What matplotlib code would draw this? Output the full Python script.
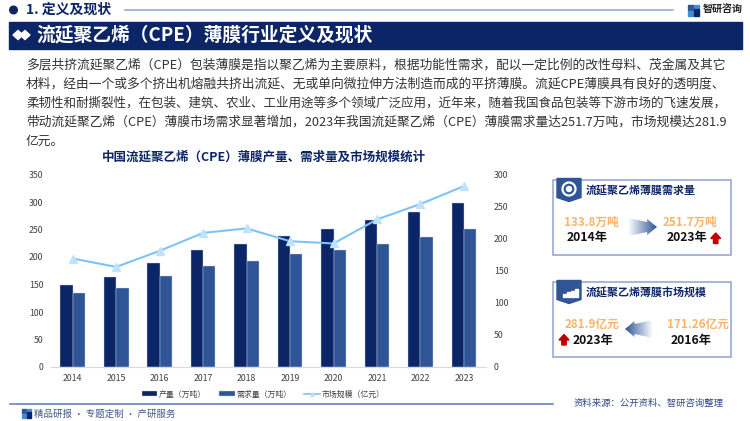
import matplotlib
matplotlib.use("Agg")
import matplotlib.pyplot as plt
import numpy as np
from matplotlib.colors import LinearSegmentedColormap
from matplotlib.lines import Line2D
from matplotlib.patches import Circle, Polygon, Rectangle

plt.rcParams["font.family"] = ["Noto Sans CJK SC", "DejaVu Sans"]

years = [2014, 2015, 2016, 2017, 2018, 2019, 2020, 2021, 2022, 2023]
output = [150, 164, 189.5, 212, 224.5, 239, 251, 266.5, 281, 298.5]
demand = [133.8, 143, 165, 183, 193, 205, 212.5, 223.5, 235.5, 251.7]
market = [169, 156, 181, 209, 216, 196, 192.5, 230, 254, 281.9]

left_ticks = [0, 50, 100, 150, 200, 250, 300, 350]
right_ticks = [0, 50, 100, 150, 200, 250, 300]

body_lines = [
    "多层共挤流延聚乙烯（CPE）包装薄膜是指以聚乙烯为主要原料，根据功能性需求，配以一定比例的改性母料、茂金属及其它",
    "材料，经由一个或多个挤出机熔融共挤出流延、无或单向微拉伸方法制造而成的平挤薄膜。流延CPE薄膜具有良好的透明度、",
    "柔韧性和耐撕裂性，在包装、建筑、农业、工业用途等多个领域广泛应用，近年来，随着我国食品包装等下游市场的飞速发展，",
    "带动流延聚乙烯（CPE）薄膜市场需求显著增加，2023年我国流延聚乙烯（CPE）薄膜需求量达251.7万吨，市场规模达281.9",
    "亿元。",
]

NAVY = "#0b2567"
BLUE = "#2f5597"
LIGHT = "#7cc4f5"
ORANGE = "#f9b468"
FRAME = "#8fa3cf"

fig = plt.figure(figsize=(7.5, 4.21), dpi=100)
renderer = fig.canvas.get_renderer()

# page layer in pixel coordinates
page = fig.add_axes([0, 0, 1, 1], zorder=0)
page.set_xlim(0, 750)
page.set_ylim(421, 0)
page.axis("off")


def logo(x, y, s):
    page.add_patch(Rectangle((x, y), s * 0.45, s * 0.45, color="#2f5597"))
    page.add_patch(Rectangle((x + s * 0.55, y), s * 0.45, s * 0.3, color="#3f8fd8"))
    page.add_patch(Rectangle((x, y + s * 0.55), s * 0.45, s * 0.45, color="#3f8fd8"))
    page.add_patch(Rectangle((x + s * 0.55, y + s * 0.4), s * 0.45, s * 0.6, color="#0b2567"))


def gradient_arrow(x0, x1, yc, flip=False):
    # block arrow fading out toward its tail
    mid = x0 + (x1 - x0) * 0.66
    pts = [(x0, yc - 9), (mid, yc - 5), (mid, yc - 8), (x1, yc), (mid, yc + 8), (mid, yc + 5), (x0, yc + 9)]
    grad = np.linspace(0, 1, 64).reshape(1, -1)
    if flip:
        pts = [(x0 + x1 - a, b) for a, b in pts]
        grad = grad[:, ::-1]
    cmap = LinearSegmentedColormap.from_list("arrow", ["#ffffff", "#2f5597"])
    im = page.imshow(grad, extent=(x0, x1, yc + 11, yc - 11), cmap=cmap, aspect="auto", zorder=2)
    im.set_clip_path(Polygon(pts, transform=page.transData))
    page.set_xlim(0, 750)
    page.set_ylim(421, 0)


def up_arrow(x, y):
    page.add_patch(Polygon([(x - 5, y), (x, y - 5.5), (x + 5, y), (x + 2.2, y), (x + 2.2, y + 5),
                            (x - 2.2, y + 5), (x - 2.2, y)], color="#c00000", zorder=3))


def card(y0, y1, title):
    page.add_patch(Rectangle((553, y0), 178, y1 - y0, fill=False, ec=FRAME, lw=1.1))
    page.add_patch(Polygon([(557, y0 - 1), (581, y0 - 1), (581, y0 + 18), (569, y0 + 22), (557, y0 + 18)],
                           color=BLUE, zorder=2))
    page.text(585.5, y0 + 10.5, title, color=NAVY, fontsize=7.9, fontweight="bold", va="center", ha="left")


def big(x, y, s):
    page.text(x, y, s, color="#111111", fontsize=8.8, fontweight="bold", va="center", ha="center")


def amount(x, y, s):
    page.text(x, y, s, color=ORANGE, fontsize=8.4, fontweight="bold", va="center", ha="center")


# header
page.add_patch(Circle((13.5, 10), 3.8, color=NAVY))
page.text(26.5, 10, "1. 定义及现状", color=NAVY, fontsize=10, fontweight="bold", va="center", ha="left")
page.plot([125, 673], [10, 10], color=FRAME, lw=1.1)
logo(688, 5, 11)
page.text(703, 9.5, "智研咨询", color="#222222", fontsize=7.2, fontweight="bold", va="center", ha="left")

page.add_patch(Rectangle((9, 22), 733, 26.5, color=NAVY))
page.add_patch(Polygon([(13, 35), (18, 30.5), (23, 35), (18, 39.5)], color="white"))
page.add_patch(Polygon([(20, 35), (25, 30.5), (30, 35), (25, 39.5)], color="white"))
page.text(36, 35, "流延聚乙烯（CPE）薄膜行业定义及现状", color="white", fontsize=13.5, fontweight="bold",
          va="center", ha="left")

# body paragraph, full lines fitted to the column width
for i, line in enumerate(body_lines):
    t = page.text(26, 64.5 + i * 19.1, line, color="#333333", fontsize=9.2, va="center", ha="left")
    if i < 4:
        width = t.get_window_extent(renderer).width
        t.set_fontsize(9.2 * 700 / width)

# chart
page.text(263.5, 157.5, "中国流延聚乙烯（CPE）薄膜产量、需求量及市场规模统计", color=NAVY, fontsize=9,
          fontweight="bold", va="center", ha="center")

ax = fig.add_axes([51 / 750, 1 - 367 / 421, (485.7 - 51) / 750, (367 - 174.5) / 421], zorder=1)
ax.patch.set_alpha(0)
x = np.arange(len(years))
w = 0.283
bars1 = ax.bar(x - w / 2, output, w, color=NAVY, ec="#c9d3ea", lw=0.3)
bars2 = ax.bar(x + w / 2, demand, w, color=BLUE, ec="#c9d3ea", lw=0.3)
ax.set_xlim(-0.5, len(years) - 0.5)
ax.set_ylim(0, 350)
ax.set_yticks(left_ticks)
ax.set_xticks(x, years)
ax.tick_params(length=0, labelsize=6.3, labelcolor="#404040", pad=5)
ax.tick_params(axis="y", pad=5.5)
for s in ["top", "left", "right"]:
    ax.spines[s].set_visible(False)
ax.spines["bottom"].set_color("#d9d9d9")

ax2 = ax.twinx()
ax2.patch.set_alpha(0)
ax2.plot(x, market, color=LIGHT, lw=1.5, marker="^", ms=6, mfc="#bfe3fb", mec="#bfe3fb")
ax2.set_ylim(0, 300)
ax2.set_yticks(right_ticks)
ax2.tick_params(length=0, labelsize=6.3, labelcolor="#404040", pad=6)
for s in ax2.spines.values():
    s.set_visible(False)

line_handle = Line2D([], [], color=LIGHT, lw=1.2, marker="^", ms=2.5, mfc="#bfe3fb", mec="#bfe3fb")
fig.legend(handles=[bars1, bars2, line_handle], labels=["产量（万吨）", "需求量（万吨）", "市场规模（亿元）"],
           loc="center", bbox_to_anchor=(263 / 750, 1 - 394 / 421), ncol=3, frameon=False, fontsize=5.7,
           handlelength=2, handleheight=0.5, handletextpad=0.2, columnspacing=1.6, labelcolor="#404040")

# cards
card(179.5, 255, "流延聚乙烯薄膜需求量")
page.add_patch(Circle((569, 189), 6.5, fc="none", ec="white", lw=1.6, zorder=3))
page.add_patch(Circle((569, 189), 2.5, color="white", zorder=3))
amount(591.7, 222, "133.8万吨")
big(587, 238, "2014年")
gradient_arrow(628, 657, 227)
amount(690, 222, "251.7万吨")
big(687, 238, "2023年")
up_arrow(715.7, 238.5)

card(281.5, 357, "流延聚乙烯薄膜市场规模")
for bx, bh in zip([563, 567, 571, 575], [3, 5, 6, 8]):
    page.add_patch(Rectangle((bx, 297 - bh), 2.5, bh, color="white", zorder=3))
amount(591.7, 325, "281.9亿元")
big(593, 340.5, "2023年")
up_arrow(564, 340)
gradient_arrow(625, 653, 329, flip=True)
amount(698, 325, "171.26亿元")
big(691, 340.5, "2016年")

# footer
page.plot([10, 553], [403.7, 403.7], color="#5b78b5", lw=1.1)
logo(22, 409, 8.5)
page.text(34, 414, "精品研报 · 专题定制 · 产研服务", color="#44588a", fontsize=6.8, va="center", ha="left")
page.text(574, 403, "资料来源：公开资料、智研咨询整理", color="#2f4a85", fontsize=6.75, va="center", ha="left")

fig.savefig("out.png", dpi=100)
